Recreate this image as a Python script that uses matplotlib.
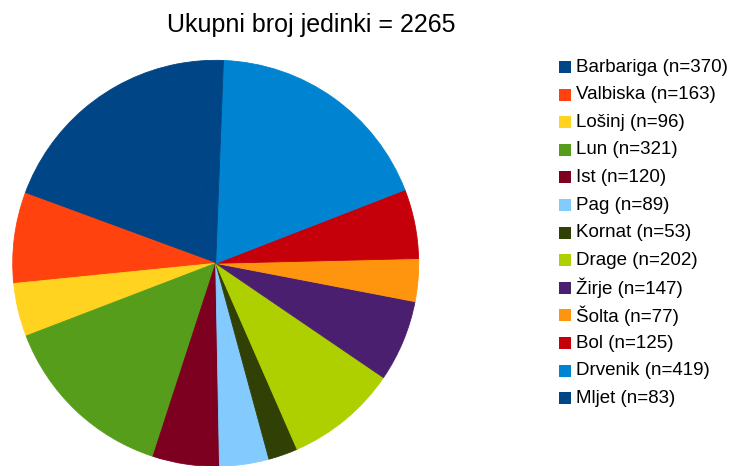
import matplotlib
matplotlib.use("Agg")
import matplotlib.pyplot as plt
from matplotlib.patches import Rectangle

# Broj jedinki po lokalitetu
locations = ["Barbariga", "Valbiska", "Lošinj", "Lun", "Ist", "Pag", "Kornat",
             "Drage", "Žirje", "Šolta", "Bol", "Drvenik", "Mljet"]
counts = [370, 163, 96, 321, 120, 89, 53, 202, 147, 77, 125, 419, 83]
colors = ["#004586", "#ff420e", "#ffd320", "#579d1c", "#7e0021", "#83caff",
          "#314004", "#aecf00", "#4b1f6f", "#ff950e", "#c5000b", "#0084d1",
          "#004586"]

total = sum(counts)
title = f"Ukupni broj jedinki = {total}"
labels = [f"{name} (n={n})" for name, n in zip(locations, counts)]

plt.rcParams["font.family"] = ["Liberation Sans", "DejaVu Sans"]

W, H = 732, 466
fig = plt.figure(figsize=(W / 100, H / 100), dpi=100)

# pie axes: centre (215.7, 263.3) px, radius 204 px
cx, cy, r = 215.7, 263.3, 204
ax = fig.add_axes([(cx - r) / W, (H - cy - r) / H, 2 * r / W, 2 * r / H])
wedges, _ = ax.pie(counts, colors=colors, startangle=101, counterclock=True,
                   radius=1.0)
for w in wedges:
    # outline each wedge in its own colour so neighbours join without seams
    w.set_edgecolor(w.get_facecolor())
    w.set_linewidth(0.6)
ax.set_xlim(-1.005, 1.005)
ax.set_ylim(-1.005, 1.005)
ax.set_aspect("equal")
ax.axis("off")

fig.text(311 / W, 1 - 25 / H, title, ha="center", va="center",
         fontsize=18, color="#000000")

# legend column
x0, y0, dy, sq = 559, 67, 27.6, 12
for i, (lab, col) in enumerate(zip(labels, colors)):
    y = y0 + i * dy
    fig.patches.append(Rectangle((x0 / W, 1 - (y + sq / 2) / H), sq / W, sq / H,
                                 transform=fig.transFigure, facecolor=col,
                                 edgecolor="none"))
    fig.text(576 / W, 1 - y / H, lab, ha="left", va="center",
             fontsize=13.5, color="#000000")

fig.savefig("out.png", dpi=100, facecolor="white")
